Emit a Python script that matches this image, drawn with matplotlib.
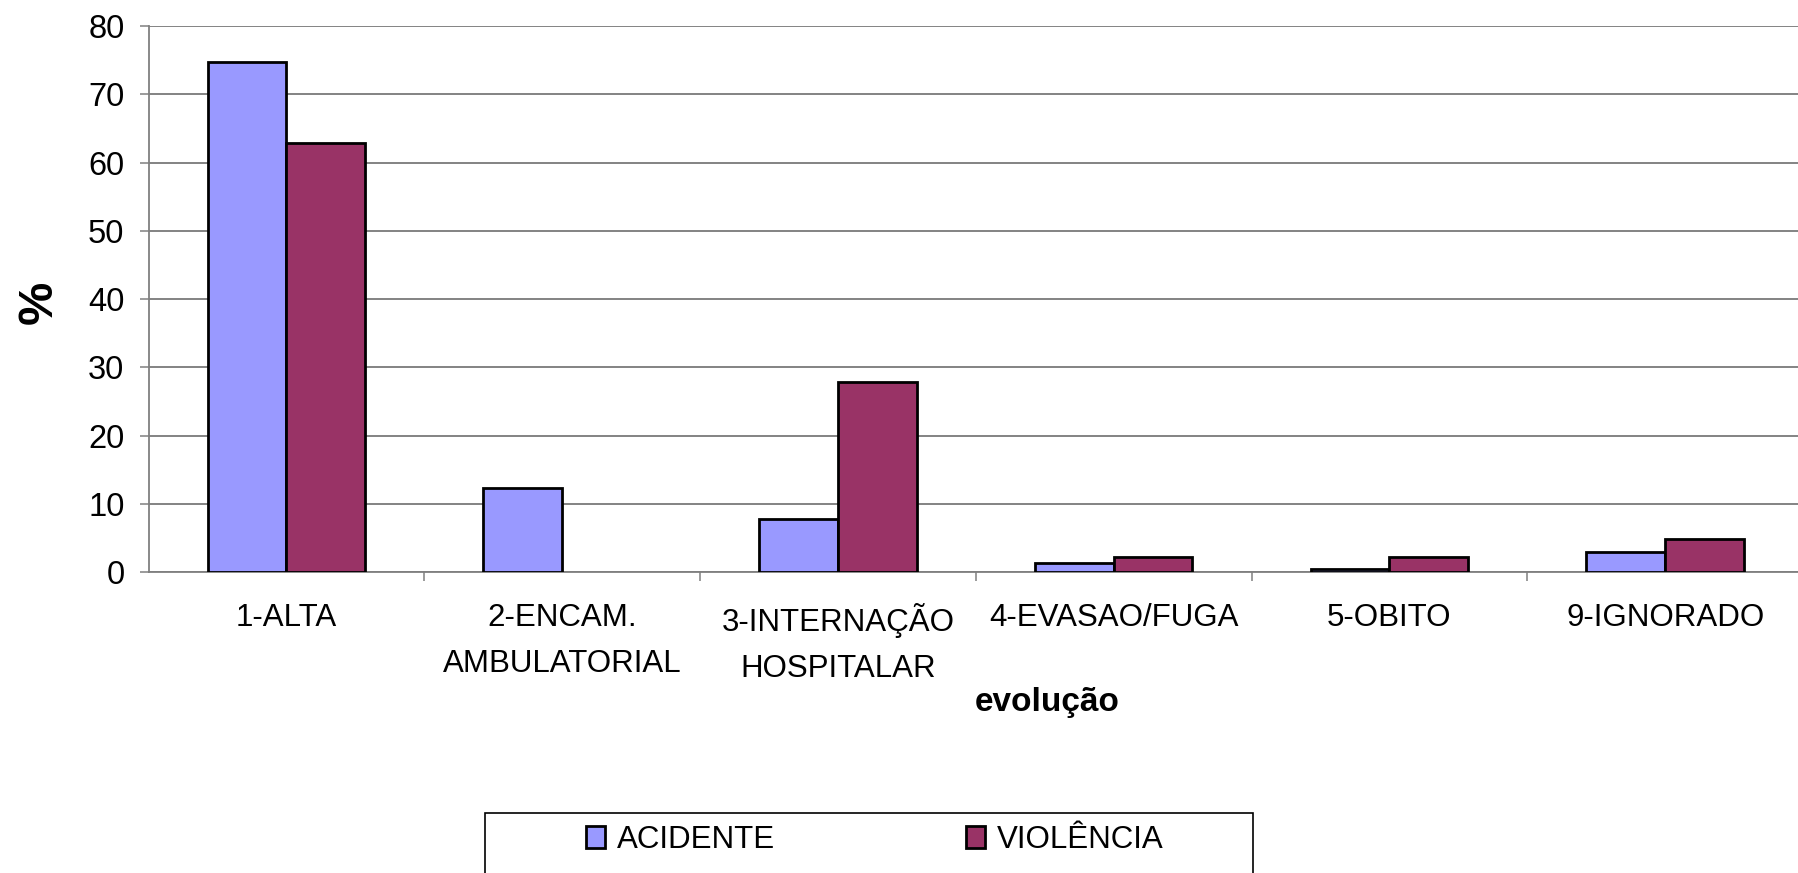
import matplotlib
matplotlib.use("Agg")
import matplotlib.pyplot as plt
import numpy as np
from matplotlib.patches import Rectangle

categories = ["1-ALTA", "2-ENCAM.\nAMBULATORIAL", "3-INTERNAÇÃO\nHOSPITALAR",
              "4-EVASAO/FUGA", "5-OBITO", "9-IGNORADO"]
acidente = [74.8, 12.3, 7.8, 1.3, 0.5, 3.0]
violencia = [62.9, 0.0, 27.9, 2.2, 2.2, 4.8]
series_names = ["ACIDENTE", "VIOLÊNCIA"]
colors = ["#9999FF", "#993366"]
yticks = [0, 10, 20, 30, 40, 50, 60, 70, 80]

plt.rcParams['font.family'] = ['Liberation Sans', 'DejaVu Sans']

W, H = 1798, 873
fig = plt.figure(figsize=(W / 100, H / 100), dpi=100)
left = 148.5 / W
right = 1803 / W
top = 1 - 26.0 / H
bottom = 1 - 572.2 / H
ax = fig.add_axes([left, bottom, right - left, top - bottom])

x = np.arange(len(categories))
bw = 0.286
b1 = ax.bar(x - bw / 2, acidente, bw, color=colors[0], edgecolor="black", linewidth=2.0,
            label=series_names[0], zorder=3)
b2 = ax.bar(x + bw / 2, violencia, bw, color=colors[1], edgecolor="black", linewidth=2.0,
            label=series_names[1], zorder=3)
for p in list(b1) + list(b2):
    if p.get_height() == 0:
        p.set_linewidth(0)

ax.set_xlim(-0.5, len(categories) - 0.5)
ax.set_ylim(0, 80)
ax.set_yticks(yticks)
ax.tick_params(axis='y', labelsize=23.5, length=6.3, width=1.1, color="#808080",
               direction='out', pad=11)
ax.yaxis.grid(True, color="#7a7a7a", linewidth=1.3, zorder=0)
ax.set_axisbelow(True)

ax.set_xticks(x)
ax.set_xticklabels(categories, fontsize=22.5, linespacing=1.7)
ax.tick_params(axis='x', which='major', length=0, pad=22)
ax.set_xticks(np.arange(0.5, len(categories) - 0.5, 1), minor=True)
ax.tick_params(axis='x', which='minor', length=6.3, width=1.1, color="#808080", direction='out')

for s in ['top', 'right']:
    ax.spines[s].set_visible(False)
for s in ['left', 'bottom']:
    ax.spines[s].set_color("#808080")
    ax.spines[s].set_linewidth(1.3)

fig.text(39 / W, 1 - 302 / H, "%", rotation=90, fontsize=35, fontweight='bold',
         ha='center', va='center')
fig.text(1047 / W, 1 - 703 / H, "evolução", fontsize=24, fontweight='bold',
         ha='center', va='center')

# legend frame
fig.patches.append(Rectangle((485 / W, -0.05), (1253 - 485) / W, 0.05 + (1 - 813 / H),
                             transform=fig.transFigure, facecolor='white',
                             edgecolor='black', linewidth=1.2, zorder=1))
leg = fig.legend(handles=[b1, b2], labels=series_names, loc='center',
                 bbox_to_anchor=(875 / W, 1 - 840 / H), ncol=2, frameon=False,
                 fontsize=22.5, handlelength=0.6, handleheight=0.7, handletextpad=0.4,
                 columnspacing=6.1)
leg.set_zorder(5)

fig.savefig("out.png", dpi=100)
